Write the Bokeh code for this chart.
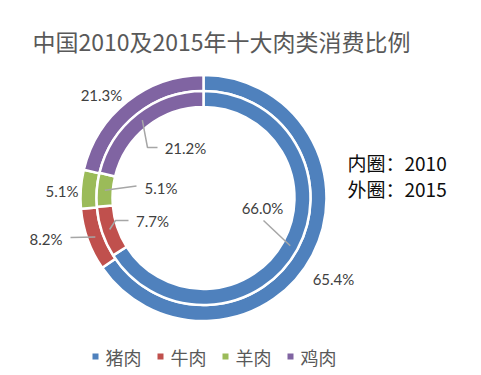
import numpy as np
from bokeh.plotting import figure
from bokeh.models import Range1d
from bokeh.core.properties import value
from bokeh.embed import file_html
from bokeh.resources import INLINE

# ---------------- data ----------------
title_text = "中国2010及2015年十大肉类消费比例"
categories = ["猪肉", "牛肉", "羊肉", "鸡肉"]
share_2015 = [65.4, 8.2, 5.1, 21.3]   # outer ring
share_2010 = [66.0, 7.7, 5.1, 21.2]   # inner ring
note_lines = ["内圈：2010", "外圈：2015"]

# ---------------- style / layout ----------------
colors = ["#4F81BD", "#C0504D", "#9BBB59", "#8064A2"]
W, H = 481, 375
MARGIN = 0


def S(x, y):
    """screen pixel (reference image) -> data coordinates"""
    return x - MARGIN, (H + MARGIN) - y


CX, CY = 203, 197.5            # ring centre (screen px)
INNER = (91, 107)              # inner ring radii (2010)
OUTER = (107, 123)             # outer ring radii (2015)

# label centres (screen px) and leader line bend points
outer_label_pos = [(333, 278), (45.5, 238), (61.5, 190), (101, 94)]
outer_leaders = [None, [(70, 237)], None, None]
inner_label_pos = [(262, 207), (152, 220), (160.5, 187.5), (185, 147.5)]
inner_leaders = [[(263, 220)], [(115, 220), (128, 220)], [(136, 185.5)],
                 [(147, 147), (157, 147)]]

LABEL_FONT = value("Lato, 'Noto Sans CJK SC'")
CJK_FONT = value("'Noto Sans CJK SC'")

p = figure(width=W, height=H, x_range=Range1d(0, W), y_range=Range1d(0, H),
           output_backend="svg", toolbar_location=None, min_border=0,
           x_axis_type=None, y_axis_type=None)
p.grid.visible = False
p.outline_line_color = None
p.background_fill_color = "white"
p.border_fill_color = "white"

cx, cy = S(CX, CY)


def angles(vals):
    c = np.concatenate([[0.0], np.cumsum(vals)]) / np.sum(vals)
    start = np.pi / 2 - 2 * np.pi * c[:-1]
    end = np.pi / 2 - 2 * np.pi * c[1:]
    mid = (start + end) / 2
    return start, end, mid


def ring(vals, radii, label_pos, leaders):
    start, end, mid = angles(vals)
    n = len(vals)
    p.annular_wedge(x=[cx] * n, y=[cy] * n,
                    inner_radius=radii[0], outer_radius=radii[1],
                    start_angle=list(start), end_angle=list(end),
                    direction="clock", fill_color=colors,
                    line_color="white", line_width=2.5)
    rm = (radii[0] + radii[1]) / 2
    xs, ys = [], []
    for i in range(n):
        if leaders[i] is None:
            continue
        ax = cx + rm * np.cos(mid[i])
        ay = cy + rm * np.sin(mid[i])
        lx, ly = [ax], [ay]
        for (bx, by) in leaders[i]:
            dx, dy = S(bx, by)
            lx.append(dx)
            ly.append(dy)
        xs.append(lx)
        ys.append(ly)
    if xs:
        p.multi_line(xs=xs, ys=ys, line_color="#A6A6A6", line_width=1.5)
    tx = [S(*q)[0] for q in label_pos]
    ty = [S(*q)[1] for q in label_pos]
    p.text(x=tx, y=ty, text=[f"{v:.1f}%" for v in vals],
           text_align="center", text_baseline="middle",
           text_font=LABEL_FONT, text_font_size="15px", text_color="#404040")


ring(share_2015, OUTER, outer_label_pos, outer_leaders)
ring(share_2010, INNER, inner_label_pos, inner_leaders)

# title
tx, ty = S(32, 40)
p.text(x=[tx], y=[ty], text=[title_text], text_align="left", text_baseline="middle",
       text_font=CJK_FONT, text_font_size="23px", text_color="#595959")

# ring notes
nx = [S(347, 0)[0]] * len(note_lines)
ny = [S(0, 162)[1], S(0, 188)[1]]
p.text(x=nx, y=ny, text=note_lines, text_align="left", text_baseline="middle",
       text_font=CJK_FONT, text_font_size="19px", text_color="#0D0D0D")

# legend
LEG_X0, LEG_STEP, LEG_Y = 95, 65, 356
sq_x = [S(LEG_X0 + LEG_STEP * i, 0)[0] for i in range(len(categories))]
sq_y = [S(0, LEG_Y)[1]] * len(categories)
p.scatter(x=sq_x, y=sq_y, marker="square", size=6, fill_color=colors, line_color=None)
p.text(x=[x + 10 for x in sq_x], y=sq_y, text=categories, text_align="left",
       text_baseline="middle", text_font=CJK_FONT, text_font_size="18px",
       text_color="#595959")

open("out.html", "w").write(file_html(p, INLINE))
